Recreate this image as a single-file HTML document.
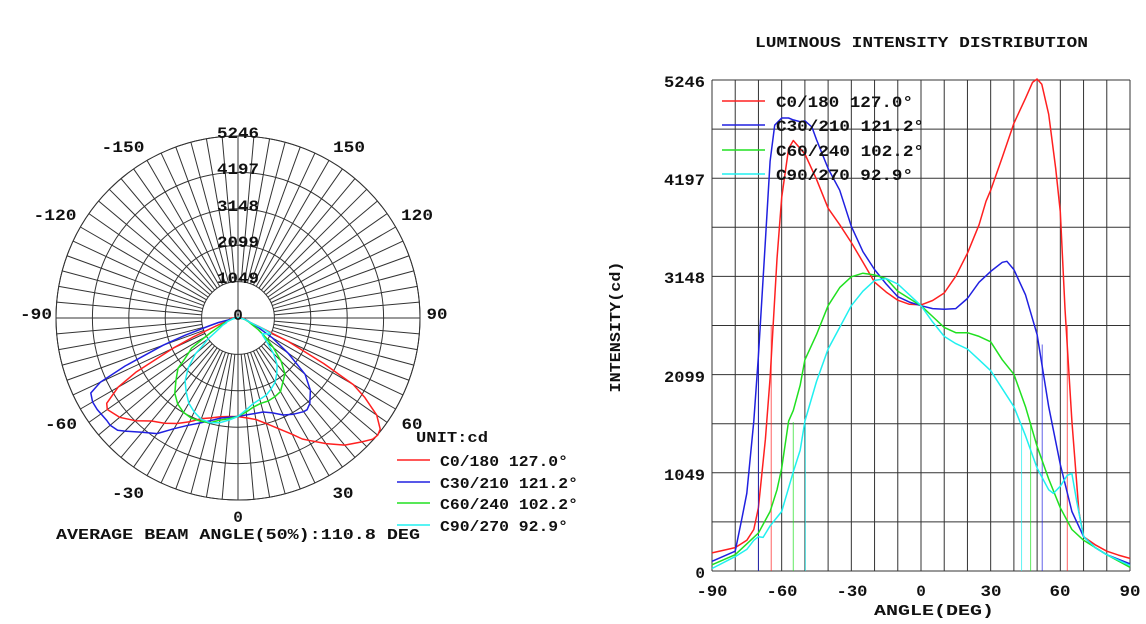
<!DOCTYPE html>
<html><head><meta charset="utf-8"><style>
html,body{margin:0;padding:0;background:#fff;}
svg{display:block;}
text{font-family:"Liberation Mono","DejaVu Sans Mono",monospace;font-weight:bold;fill:#111;}
</style></head><body>
<svg id="s" width="1146" height="624" viewBox="0 0 1146 624" xmlns="http://www.w3.org/2000/svg">
<g id="pg" stroke="#333" stroke-width="1" fill="none"></g>
<g id="rg" stroke="#333" stroke-width="1" fill="none"></g>
<g id="curves" fill="none" stroke-width="1.5"></g>
<g font-size="16" text-anchor="middle" lengthAdjust="spacingAndGlyphs">
<text x="238" y="138" textLength="42" lengthAdjust="spacingAndGlyphs">5246</text>
<text x="238" y="174" textLength="42" lengthAdjust="spacingAndGlyphs">4197</text>
<text x="238" y="211" textLength="42" lengthAdjust="spacingAndGlyphs">3148</text>
<text x="238" y="247" textLength="42" lengthAdjust="spacingAndGlyphs">2099</text>
<text x="238" y="283" textLength="42" lengthAdjust="spacingAndGlyphs">1049</text>
<text x="238" y="320">0</text>
<text x="123" y="152" textLength="43" lengthAdjust="spacingAndGlyphs">-150</text>
<text x="349" y="152" textLength="32" lengthAdjust="spacingAndGlyphs">150</text>
<text x="55" y="220" textLength="43" lengthAdjust="spacingAndGlyphs">-120</text>
<text x="417" y="220" textLength="32" lengthAdjust="spacingAndGlyphs">120</text>
<text x="36" y="319" textLength="32" lengthAdjust="spacingAndGlyphs">-90</text>
<text x="437" y="319" textLength="21" lengthAdjust="spacingAndGlyphs">90</text>
<text x="61" y="429" textLength="32" lengthAdjust="spacingAndGlyphs">-60</text>
<text x="412" y="429" textLength="21" lengthAdjust="spacingAndGlyphs">60</text>
<text x="128" y="498" textLength="32" lengthAdjust="spacingAndGlyphs">-30</text>
<text x="343" y="498" textLength="21" lengthAdjust="spacingAndGlyphs">30</text>
<text x="238" y="522">0</text>
</g>
<g font-size="15">
<text x="416" y="442" textLength="72" lengthAdjust="spacingAndGlyphs">UNIT:cd</text>
<text x="440" y="466" textLength="128" lengthAdjust="spacingAndGlyphs">C0/180 127.0°</text>
<text x="440" y="488" textLength="138" lengthAdjust="spacingAndGlyphs">C30/210 121.2°</text>
<text x="440" y="509" textLength="138" lengthAdjust="spacingAndGlyphs">C60/240 102.2°</text>
<text x="440" y="531" textLength="128" lengthAdjust="spacingAndGlyphs">C90/270 92.9°</text>
<text x="56" y="539" textLength="364" lengthAdjust="spacingAndGlyphs">AVERAGE BEAM ANGLE(50%):110.8 DEG</text>
<text x="755" y="47" textLength="333" lengthAdjust="spacingAndGlyphs">LUMINOUS INTENSITY DISTRIBUTION</text>
<text x="776" y="107" font-size="16" textLength="137" lengthAdjust="spacingAndGlyphs">C0/180 127.0°</text>
<text x="776" y="131" font-size="16" textLength="148" lengthAdjust="spacingAndGlyphs">C30/210 121.2°</text>
<text x="776" y="156" font-size="16" textLength="148" lengthAdjust="spacingAndGlyphs">C60/240 102.2°</text>
<text x="776" y="180" font-size="16" textLength="137" lengthAdjust="spacingAndGlyphs">C90/270 92.9°</text>
</g>
<g font-size="16" text-anchor="end">
<text x="705" y="87" textLength="41" lengthAdjust="spacingAndGlyphs">5246</text>
<text x="705" y="185" textLength="41" lengthAdjust="spacingAndGlyphs">4197</text>
<text x="705" y="283" textLength="41" lengthAdjust="spacingAndGlyphs">3148</text>
<text x="705" y="382" textLength="41" lengthAdjust="spacingAndGlyphs">2099</text>
<text x="705" y="480" textLength="41" lengthAdjust="spacingAndGlyphs">1049</text>
<text x="705" y="578">0</text>
</g>
<g font-size="16" text-anchor="middle">
<text x="712" y="596" textLength="31" lengthAdjust="spacingAndGlyphs">-90</text>
<text x="782" y="596" textLength="31" lengthAdjust="spacingAndGlyphs">-60</text>
<text x="852" y="596" textLength="31" lengthAdjust="spacingAndGlyphs">-30</text>
<text x="921" y="596">0</text>
<text x="991" y="596" textLength="21" lengthAdjust="spacingAndGlyphs">30</text>
<text x="1060" y="596" textLength="21" lengthAdjust="spacingAndGlyphs">60</text>
<text x="1130" y="596" textLength="21" lengthAdjust="spacingAndGlyphs">90</text>
<text x="874" y="615" font-size="15" text-anchor="start" textLength="120" lengthAdjust="spacingAndGlyphs">ANGLE(DEG)</text>
<text transform="translate(620,327) rotate(-90)" font-size="15" textLength="131" lengthAdjust="spacingAndGlyphs">INTENSITY(cd)</text>
</g>
<g stroke-width="1.5">
<line x1="397" y1="460" x2="430" y2="460" stroke="#ff2020"/>
<line x1="397" y1="482" x2="430" y2="482" stroke="#2020e0"/>
<line x1="397" y1="503" x2="430" y2="503" stroke="#20e020"/>
<line x1="397" y1="525" x2="430" y2="525" stroke="#20f0f0"/>
<line x1="722" y1="101" x2="765" y2="101" stroke="#ff2020"/>
<line x1="722" y1="125" x2="765" y2="125" stroke="#2020e0"/>
<line x1="722" y1="150" x2="765" y2="150" stroke="#20e020"/>
<line x1="722" y1="174" x2="765" y2="174" stroke="#20f0f0"/>
</g>
</svg>
<script>
var NS="http://www.w3.org/2000/svg";
function el(p,t,a){var e=document.createElementNS(NS,t);for(var k in a)e.setAttribute(k,a[k]);p.appendChild(e);return e;}
var pg=document.getElementById('pg'),rg=document.getElementById('rg'),cv=document.getElementById('curves');
var cx=238,cy=318,R=182,M=5246;
el(pg,'circle',{cx:cx,cy:cy,r:R});
for(var i=1;i<=5;i++)el(pg,'circle',{cx:cx,cy:cy,r:R*i/5});
for(var a=0;a<360;a+=5){var t=a*Math.PI/180,r0=(a%90==0)?0:R/5;
el(pg,'line',{x1:cx+r0*Math.sin(t),y1:cy+r0*Math.cos(t),x2:cx+R*Math.sin(t),y2:cy+R*Math.cos(t)});}
var L=712,Rr=1130,T=80,B=571;
function X(a){return L+(a+90)*(Rr-L)/180;}function Y(v){return B-v*(B-T)/M;}
for(var a=-90;a<=90;a+=10)el(rg,'line',{x1:X(a),y1:T,x2:X(a),y2:B});
for(var i=0;i<=10;i++)el(rg,'line',{x1:L,y1:Y(M*i/10),x2:Rr,y2:Y(M*i/10)});
var D={
"#ff2020":[[-90,193],[-80,250],[-75,328],[-72,443],[-70,675],[-67,1408],[-65,2063],[-62,3336],[-60,3992],[-57,4513],[-55,4600],[-50,4455],[-45,4185],[-40,3876],[-35,3700],[-30,3510],[-25,3300],[-20,3086],[-15,2980],[-10,2893],[-5,2850],[0,2843],[5,2890],[10,2970],[15,3150],[20,3394],[25,3700],[28,3950],[30,4069],[35,4420],[40,4783],[45,5050],[48,5220],[50,5257],[52,5200],[55,4879],[58,4300],[60,3838],[62,2800],[65,1600],[68,636],[70,366],[75,280],[80,212],[85,170],[90,135]],
"#2020e0":[[-90,104],[-80,212],[-77,578],[-75,830],[-72,1600],[-70,2295],[-67,3530],[-65,4378],[-63,4763],[-60,4840],[-57,4840],[-55,4820],[-52,4800],[-50,4810],[-47,4744],[-45,4609],[-40,4300],[-35,4069],[-30,3683],[-25,3413],[-20,3220],[-15,3066],[-10,2931],[-5,2873],[0,2835],[5,2804],[10,2796],[15,2804],[20,2912],[25,3086],[30,3201],[35,3298],[37,3309],[40,3220],[45,2951],[50,2526],[55,1755],[60,1138],[65,636],[70,366],[75,250],[80,174],[90,77]],
"#20e020":[[-90,66],[-80,174],[-70,405],[-65,636],[-62,868],[-60,1099],[-57,1600],[-55,1716],[-52,1986],[-50,2256],[-45,2526],[-40,2835],[-35,3028],[-30,3143],[-25,3182],[-20,3163],[-15,3124],[-10,2989],[-5,2912],[0,2835],[5,2719],[10,2603],[15,2546],[20,2546],[25,2507],[30,2449],[35,2256],[40,2102],[45,1755],[50,1331],[55,983],[60,675],[65,443],[70,328],[80,174],[90,39]],
"#20f0f0":[[-90,27],[-80,154],[-75,231],[-72,328],[-70,366],[-68,359],[-65,482],[-60,636],[-55,1060],[-52,1292],[-50,1600],[-45,2025],[-40,2372],[-35,2603],[-30,2835],[-25,2989],[-20,3105],[-15,3124],[-10,3066],[-5,2951],[0,2835],[5,2661],[10,2507],[15,2430],[20,2372],[25,2256],[30,2140],[35,1948],[40,1755],[45,1446],[50,1099],[55,868],[57,829],[60,906],[63,1022],[65,1041],[67,752],[70,366],[75,250],[80,174],[90,58]]};
var BL={"#ff2020":[-64.5,63,2623],"#2020e0":[-70,52.2,2420],"#20e020":[-55,47.2,1591],"#20f0f0":[-49.8,43.3,1562]};
for(var c in D){var p=D[c],s="",q="";
for(var j=0;j<p.length;j++){var a=p[j][0],v=p[j][1],t=a*Math.PI/180,r=v/M*R;
s+=(j?"L":"M")+X(a).toFixed(1)+","+Y(v).toFixed(1);
q+=(j?"L":"M")+(cx+r*Math.sin(t)).toFixed(1)+","+(cy+r*Math.cos(t)).toFixed(1);}
el(cv,'path',{d:s,stroke:c,'stroke-linejoin':'round'});el(cv,'path',{d:q+"L"+cx+","+cy+"Z",stroke:c,'stroke-linejoin':'round'});
var b=BL[c];
el(cv,'line',{x1:X(b[0]),y1:B,x2:X(b[0]),y2:Y(b[2]),stroke:c,'stroke-width':1,opacity:0.7});
el(cv,'line',{x1:X(b[1]),y1:B,x2:X(b[1]),y2:Y(b[2]),stroke:c,'stroke-width':1,opacity:0.7});}
</script>
</body></html>
